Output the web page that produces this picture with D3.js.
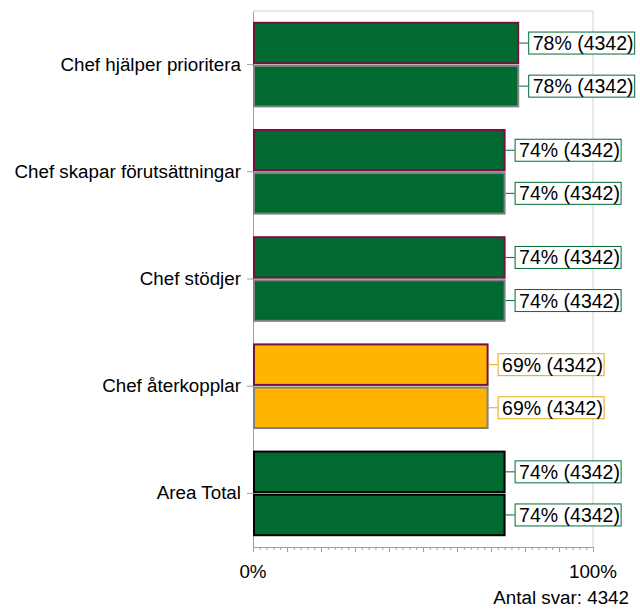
<!DOCTYPE html>
<html>
<head>
<meta charset="utf-8">
<script src="https://cdn.jsdelivr.net/npm/d3@7"></script>
<style>
  body { margin: 0; background: #fff; }
  text { font-family: "Liberation Sans", Arial, sans-serif; }
</style>
</head>
<body>
<svg id="canvas" width="640" height="615"></svg>
<script>
"use strict";

var categories = ["Chef hjälper prioritera", "Chef skapar förutsättningar", "Chef stödjer", "Chef återkopplar", "Area Total"];
var currentValues = [78, 74, 74, 69, 74];
var previousValues = [78, 74, 74, 69, 74];
var counts = [4342, 4342, 4342, 4342, 4342];
var fillColors = ["#006a31", "#006a31", "#006a31", "#ffb400", "#006a31"];
var xTickLabels = ["0%", "100%"];
var totalAnswers = 4342;

var svg = d3.select("#canvas");
var LEFT = 253, RIGHT = 593, TOP = 11, BOTTOM = 547;
var FONT = "18.8px";

var x = d3.scaleLinear().domain([0, 100]).range([LEFT, RIGHT]);
var y = d3.scaleBand().domain(categories).range([TOP, BOTTOM]).paddingInner(0.22).paddingOuter(0.11);
var sub = d3.scaleBand().domain(["current", "previous"]).range([0, y.bandwidth()]).paddingInner(0.06);

// frame: top and right light grey
svg.append("line").attr("x1", LEFT).attr("x2", RIGHT).attr("y1", TOP).attr("y2", TOP)
    .attr("stroke", "#d0d0d0");
svg.append("line").attr("x1", RIGHT).attr("x2", RIGHT).attr("y1", TOP).attr("y2", BOTTOM)
    .attr("stroke", "#d0d0d0");

// bottom axis with minor ticks
var minor = d3.axisBottom(x).tickValues(d3.range(0, 101, 2)).tickSize(3).tickFormat("");
var major = d3.axisBottom(x).tickValues(d3.range(0, 101, 10)).tickSize(5).tickFormat("");
[minor, major].forEach(function(ax) {
    var g = svg.append("g").attr("transform", "translate(0," + BOTTOM + ")").call(ax);
    g.select(".domain").attr("stroke", "#a0a0a0");
    g.selectAll(".tick line").attr("stroke", "#a0a0a0");
});

svg.selectAll("text.xlab")
    .data(xTickLabels)
    .enter().append("text")
    .attr("class", "xlab")
    .attr("x", function(d, i) { return x(i * 100); })
    .attr("y", 578)
    .attr("text-anchor", "middle")
    .attr("font-size", FONT)
    .text(function(d) { return d; });

// left axis
var yAxis = svg.append("g").attr("transform", "translate(" + LEFT + ",0)")
    .call(d3.axisLeft(y).tickSize(6).tickPadding(6).tickSizeOuter(0));
yAxis.select(".domain").attr("stroke", "#a0a0a0");
yAxis.selectAll(".tick line").attr("stroke", "#a0a0a0");
yAxis.selectAll(".tick text")
    .attr("font-family", "Liberation Sans, Arial, sans-serif")
    .attr("font-size", FONT)
    .attr("fill", "#000");

// bars
var rows = [];
categories.forEach(function(c, i) {
    rows.push({ cat: c, key: "current", value: currentValues[i], n: counts[i], fill: fillColors[i],
        stroke: i === categories.length - 1 ? "#000" : "#76113f" });
    rows.push({ cat: c, key: "previous", value: previousValues[i], n: counts[i], fill: fillColors[i],
        stroke: i === categories.length - 1 ? "#000" : "#808080" });
});

function barY(d) { return y(d.cat) + sub(d.key); }

svg.selectAll("rect.bar")
    .data(rows)
    .enter().append("rect")
    .attr("class", "bar")
    .attr("x", x(0) + 1)
    .attr("y", barY)
    .attr("width", function(d) { return x(d.value) - x(0) - 1; })
    .attr("height", sub.bandwidth())
    .attr("fill", function(d) { return d.fill; })
    .attr("stroke", function(d) { return d.stroke; })
    .attr("stroke-width", 2);

// value labels
var labels = svg.selectAll("g.vlab")
    .data(rows)
    .enter().append("g")
    .attr("class", "vlab")
    .attr("transform", function(d) {
        return "translate(" + x(d.value) + "," + (barY(d) + sub.bandwidth() / 2) + ")";
    });

function labelColor(d) { return d.fill === "#ffb400" ? "#e0aa10" : "#006a31"; }

labels.append("line")
    .attr("x1", 1).attr("x2", 10).attr("y1", 0).attr("y2", 0)
    .attr("stroke", labelColor);
labels.append("rect")
    .attr("x", 10.5).attr("y", -11)
    .attr("width", 106).attr("height", 22)
    .attr("fill", "#fff")
    .attr("stroke", labelColor);
labels.append("text")
    .attr("x", 14.5).attr("y", 7)
    .attr("font-size", "19.5px")
    .text(function(d) { return d.value + "% (" + d.n + ")"; });

svg.append("text")
    .attr("x", 629).attr("y", 604)
    .attr("text-anchor", "end")
    .attr("font-size", FONT)
    .text("Antal svar: " + totalAnswers);
</script>
</body>
</html>
